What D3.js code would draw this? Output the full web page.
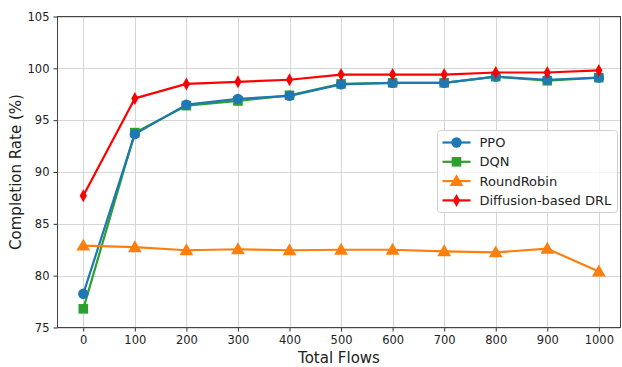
<!DOCTYPE html>
<html>
<head>
<meta charset="utf-8">
<script src="https://cdn.jsdelivr.net/npm/d3@7"></script>
<style>
  body { margin: 0; background: #fff; }
  svg { font-family: "DejaVu Sans", sans-serif; }
</style>
</head>
<body>
<svg id="chart" width="622" height="367"></svg>
<script>
const flows = [0, 100, 200, 300, 400, 500, 600, 700, 800, 900, 1000];
const ppo = [78.25, 93.65, 96.5, 97.05, 97.35, 98.45, 98.6, 98.6, 99.2, 98.9, 99.1];
const dqn = [76.8, 93.8, 96.4, 96.85, 97.4, 98.5, 98.6, 98.6, 99.2, 98.8, 99.1];
const roundRobin = [82.9, 82.75, 82.45, 82.55, 82.45, 82.5, 82.5, 82.35, 82.25, 82.6, 80.4];
const diffusion = [87.7, 97.1, 98.5, 98.7, 98.9, 99.4, 99.4, 99.4, 99.6, 99.6, 99.8];
const xTicks = [0, 100, 200, 300, 400, 500, 600, 700, 800, 900, 1000];
const yTicks = [75, 80, 85, 90, 95, 100, 105];

const seriesDefs = [
  { name: "PPO", values: ppo, color: "#1f77b4", marker: "circle" },
  { name: "DQN", values: dqn, color: "#2ca02c", marker: "square" },
  { name: "RoundRobin", values: roundRobin, color: "#ff7f0e", marker: "triangle" },
  { name: "Diffusion-based DRL", values: diffusion, color: "#ff0000", marker: "diamond" },
];
// draw DQN under PPO like the original
const drawOrder = [1, 0, 2, 3];

const plotLeft = 57.5, plotRight = 620.5, plotTop = 16.5, plotBottom = 327.5;
const x = d3.scaleLinear().domain([-50, 1042]).range([plotLeft, plotRight]);
const y = d3.scaleLinear().domain([75, 105]).range([plotBottom, plotTop]);

const svg = d3.select("#chart");

// grid
const grid = svg.append("g").attr("stroke", "#d6d6d6").attr("stroke-width", 1);
grid.selectAll(".gx").data(xTicks).join("line")
  .attr("x1", d => Math.round(x(d)) + 0.5).attr("x2", d => Math.round(x(d)) + 0.5)
  .attr("y1", plotTop).attr("y2", plotBottom);
grid.selectAll(".gy").data(yTicks).join("line")
  .attr("y1", d => Math.round(y(d)) + 0.5).attr("y2", d => Math.round(y(d)) + 0.5)
  .attr("x1", plotLeft).attr("x2", plotRight);

// axes
const xAxis = svg.append("g")
  .attr("transform", `translate(0,${plotBottom})`)
  .call(d3.axisBottom(x).tickValues(xTicks).tickFormat(d3.format("d"))
    .tickSizeOuter(0).tickSize(4).tickPadding(4));
const yAxis = svg.append("g")
  .attr("transform", `translate(${plotLeft},0)`)
  .call(d3.axisLeft(y).tickValues(yTicks).tickFormat(d3.format("d"))
    .tickSizeOuter(0).tickSize(4).tickPadding(4));
[xAxis, yAxis].forEach(a => {
  a.select(".domain").remove();
  a.selectAll("line").attr("stroke", "#333");
  a.selectAll("text").attr("font-size", 11.5).attr("fill", "#222")
    .attr("font-family", "DejaVu Sans, sans-serif");
});

// frame
svg.append("rect")
  .attr("x", plotLeft).attr("y", plotTop)
  .attr("width", plotRight - plotLeft).attr("height", plotBottom - plotTop)
  .attr("fill", "none").attr("stroke", "#444").attr("stroke-width", 1);

// labels
svg.append("text")
  .attr("x", (plotLeft + plotRight) / 2).attr("y", 363)
  .attr("text-anchor", "middle").attr("font-size", 15).attr("fill", "#222")
  .text("Total Flows");
svg.append("text")
  .attr("transform", `translate(21,${(plotTop + plotBottom) / 2}) rotate(-90)`)
  .attr("text-anchor", "middle").attr("font-size", 15).attr("fill", "#222")
  .text("Completion Rate (%)");

const symbols = {
  circle: d3.symbol(d3.symbolCircle, 85),
  square: d3.symbol(d3.symbolSquare, 92),
  triangle: d3.symbol(d3.symbolTriangle, 82),
};
function markerPath(kind) {
  if (kind === "diamond") return "M0,-6.5L3.6,0L0,6.5L-3.6,0Z";
  return symbols[kind]();
}

const line = d3.line().x((d, i) => x(flows[i])).y(d => y(d));

const plot = svg.append("g");
drawOrder.forEach(idx => {
  const s = seriesDefs[idx];
  const g = plot.append("g");
  g.append("path")
    .attr("d", line(s.values))
    .attr("fill", "none").attr("stroke", s.color).attr("stroke-width", 2.2)
    .attr("stroke-linejoin", "round");
  g.selectAll("path.m").data(s.values).join("path")
    .attr("class", "m")
    .attr("transform", (d, i) => `translate(${x(flows[i])},${y(d) + (s.marker === "triangle" ? 1 : 0)})`)
    .attr("d", markerPath(s.marker))
    .attr("fill", s.color);
});

// legend
const lg = svg.append("g").attr("transform", "translate(437.5,130.5)");
lg.append("rect")
  .attr("width", 180).attr("height", 82).attr("rx", 3)
  .attr("fill", "#fff").attr("fill-opacity", 0.8)
  .attr("stroke", "#d0d0d0");
seriesDefs.forEach((s, i) => {
  const yy = 12 + i * 19.3;
  lg.append("line")
    .attr("x1", 5).attr("x2", 33).attr("y1", yy).attr("y2", yy)
    .attr("stroke", s.color).attr("stroke-width", 2.2);
  lg.append("path")
    .attr("transform", `translate(19,${yy + (s.marker === "triangle" ? 1 : 0)})`)
    .attr("d", markerPath(s.marker))
    .attr("fill", s.color);
  lg.append("text")
    .attr("x", 42).attr("y", yy).attr("dy", "0.35em")
    .attr("font-size", 13).attr("fill", "#222")
    .text(s.name);
});
</script>
</body>
</html>
